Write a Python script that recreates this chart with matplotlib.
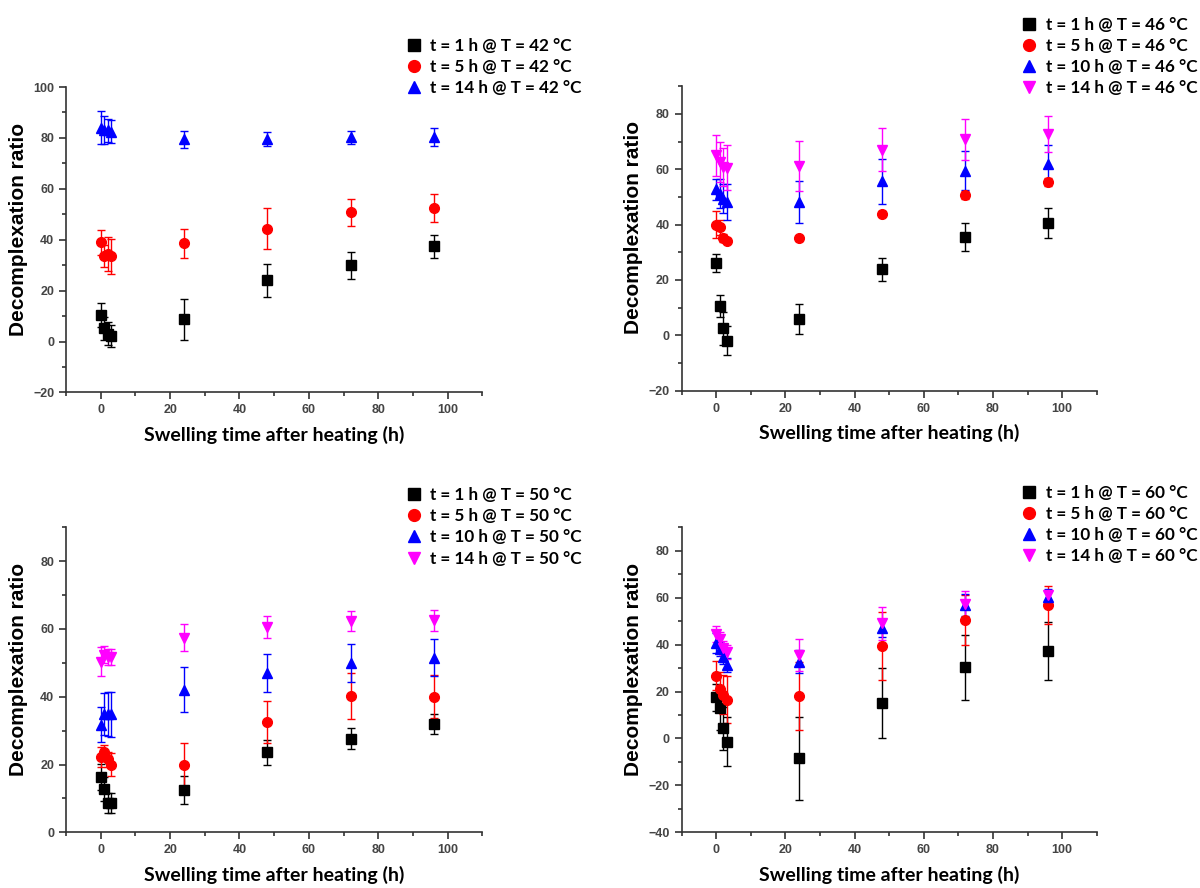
import numpy as np
import matplotlib.pyplot as plt
from matplotlib.lines import Line2D
from matplotlib.ticker import MultipleLocator

# swelling time after heating (h)
time_h = [0, 1, 2, 3, 24, 48, 72, 96]

# T = 42 C
t42_1h = [10.5, 5.2, 3.0, 2.1, 8.7, 24.0, 29.9, 37.5]
t42_1h_err = [4.7, 4.5, 4.5, 4.4, 8.0, 6.4, 5.2, 4.5]
t42_5h = [39.0, 33.6, 34.4, 33.5, 38.6, 44.4, 50.9, 52.5]
t42_5h_err = [4.8, 4.3, 6.5, 6.8, 5.7, 8.0, 5.3, 5.5]
t42_14h = [84.0, 83.3, 83.0, 82.4, 79.4, 79.5, 80.2, 80.5]
t42_14h_err = [6.4, 5.5, 4.5, 4.5, 3.5, 2.7, 2.6, 3.5]

# T = 46 C
t46_1h = [26.2, 10.6, 2.5, -1.9, 5.9, 23.8, 35.5, 40.6]
t46_1h_err = [3.3, 4.0, 5.9, 5.2, 5.3, 4.0, 4.9, 5.3]
t46_5h = [40.0, 39.0, 35.2, 34.2, 35.0, 44.0, 50.6, 55.3]
t46_5h_err = [5.0, 2.7, 1.5, 1.0, 1.0, 1.0, 1.5, 1.5]
t46_10h = [52.7, 51.2, 49.4, 48.1, 48.2, 55.7, 59.5, 62.0]
t46_10h_err = [3.8, 5.3, 5.3, 6.5, 7.7, 8.1, 7.0, 6.6]
t46_14h = [65.0, 62.6, 60.9, 60.5, 61.1, 67.1, 70.8, 72.6]
t46_14h_err = [7.4, 7.3, 6.9, 8.1, 9.0, 7.8, 7.5, 6.5]

# T = 50 C
t50_1h = [16.4, 12.7, 8.7, 8.7, 12.5, 23.6, 27.6, 32.0]
t50_1h_err = [3.9, 3.5, 3.0, 3.0, 4.2, 3.6, 3.1, 3.0]
t50_5h = [22.3, 23.7, 21.5, 20.0, 20.0, 32.6, 40.1, 40.0]
t50_5h_err = [3.0, 2.0, 2.1, 3.5, 6.3, 6.2, 6.8, 6.3]
t50_10h = [31.8, 35.0, 35.0, 34.8, 42.1, 47.0, 50.0, 51.5]
t50_10h_err = [5.2, 6.2, 6.5, 6.6, 6.6, 5.5, 5.7, 5.5]
t50_14h = [50.3, 52.4, 51.7, 51.7, 57.4, 60.6, 62.3, 62.5]
t50_14h_err = [4.3, 2.5, 2.3, 2.3, 4.0, 3.3, 3.0, 3.0]

# T = 60 C
t60_1h = [17.6, 12.8, 4.3, -1.4, -8.5, 15.1, 30.4, 37.2]
t60_1h_err = [5.7, 9.1, 9.2, 10.5, 17.8, 14.9, 13.8, 12.4]
t60_5h = [26.7, 21.0, 18.6, 16.5, 18.3, 39.6, 50.5, 56.8]
t60_5h_err = [6.2, 7.5, 8.3, 10.1, 14.5, 14.5, 10.6, 8.2]
t60_10h = [40.6, 38.2, 34.9, 31.4, 32.8, 47.2, 56.9, 60.4]
t60_10h_err = [4.3, 3.0, 3.0, 3.0, 4.8, 3.9, 4.6, 3.2]
t60_14h = [44.4, 42.3, 38.5, 37.0, 35.6, 49.1, 57.2, 61.1]
t60_14h_err = [3.4, 3.0, 3.0, 3.0, 6.8, 7.0, 5.5, 1.9]

# marker/colour in plotting order (Origin default sequence)
styles = [('s', 'black'), ('o', 'red'), ('^', 'blue'), ('v', 'magenta')]


def draw_panel(fig, rect, temp, series, ylim, legend_xy):
    ax = fig.add_axes(rect)
    handles = []
    for i, (hours, vals, errs) in enumerate(series):
        marker, color = styles[i]
        ax.errorbar(time_h, vals, yerr=errs, fmt=marker, color=color, ecolor=color,
                    markersize=7, capsize=3.2, elinewidth=1, capthick=1)
        handles.append(Line2D([], [], marker=marker, color=color, linestyle='none', markersize=8.5,
                              label=f't = {hours} h @ T = {temp} °C'))

    ax.set_xlim(-10, 110)
    ax.set_ylim(*ylim)
    ax.xaxis.set_major_locator(MultipleLocator(20))
    ax.xaxis.set_minor_locator(MultipleLocator(10))
    ax.yaxis.set_major_locator(MultipleLocator(20))
    ax.yaxis.set_minor_locator(MultipleLocator(10))
    for side in ['top', 'right']:
        ax.spines[side].set_visible(False)
    for side in ['left', 'bottom']:
        ax.spines[side].set_color('#333333')
        ax.spines[side].set_linewidth(1.2)
    ax.tick_params(which='major', direction='out', length=5, width=1.2, color='#333333')
    ax.tick_params(which='minor', direction='out', length=3, width=1.2, color='#333333')
    for lbl in ax.get_xticklabels() + ax.get_yticklabels():
        lbl.set_fontfamily('Liberation Sans')
        lbl.set_fontweight('bold')
        lbl.set_fontsize(9)
        lbl.set_color('#444444')

    ax.set_xlabel('Swelling time after heating (h)', fontfamily='Lato', fontweight='bold',
                  fontsize=14, labelpad=7)
    ax.set_ylabel('Decomplexation ratio', fontfamily='Liberation Sans', fontweight='bold',
                  fontsize=15)
    ax.yaxis.set_label_coords(-0.092, 0.535)

    ax.legend(handles=handles, loc='upper left', bbox_to_anchor=legend_xy,
              bbox_transform=fig.transFigure, frameon=False, handlelength=0.8,
              handletextpad=0.55, labelspacing=0.3, borderpad=0,
              prop={'family': 'Lato', 'weight': 'bold', 'size': 12.3})
    return ax


fig = plt.figure(figsize=(12, 8.88), dpi=100)

draw_panel(fig, [0.055, 0.558, 0.347, 0.344], 42,
           [(1, t42_1h, t42_1h_err), (5, t42_5h, t42_5h_err), (14, t42_14h, t42_14h_err)],
           (-20, 100), (0.332, 0.967))
draw_panel(fig, [0.568, 0.56, 0.346, 0.343], 46,
           [(1, t46_1h, t46_1h_err), (5, t46_5h, t46_5h_err), (10, t46_10h, t46_10h_err),
            (14, t46_14h, t46_14h_err)],
           (-20, 90), (0.845, 0.991))
draw_panel(fig, [0.055, 0.0627, 0.347, 0.3435], 50,
           [(1, t50_1h, t50_1h_err), (5, t50_5h, t50_5h_err), (10, t50_10h, t50_10h_err),
            (14, t50_14h, t50_14h_err)],
           (0, 90), (0.332, 0.461))
draw_panel(fig, [0.568, 0.0627, 0.346, 0.3435], 60,
           [(1, t60_1h, t60_1h_err), (5, t60_5h, t60_5h_err), (10, t60_10h, t60_10h_err),
            (14, t60_14h, t60_14h_err)],
           (-40, 90), (0.845, 0.464))

fig.savefig('out.png', dpi=100)
